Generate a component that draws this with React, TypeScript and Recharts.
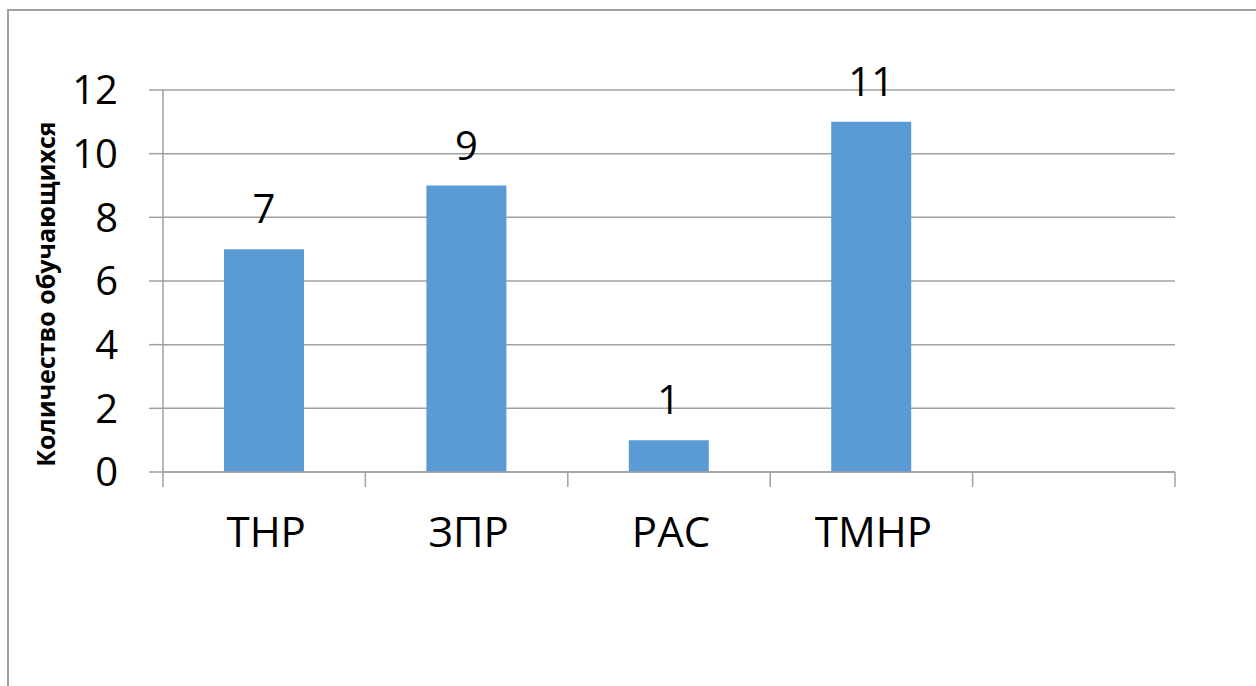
import React from 'react';
import { BarChart, Bar, XAxis, YAxis, CartesianGrid, LabelList } from 'recharts';

const categories = ['ТНР', 'ЗПР', 'РАС', 'ТМНР', ''];
const counts = [7, 9, 1, 11, null];
const yTicks = [0, 2, 4, 6, 8, 10, 12];

const data = categories.map((name, i) => ({ name, value: counts[i] }));

const W = 1256;
const H = 686;
const PLOT_LEFT = 163;
const PLOT_RIGHT = 1175;
const BAND = (PLOT_RIGHT - PLOT_LEFT) / categories.length;
const GRID = '#a0a0a0';
const FONT = '"Open Sans", sans-serif';

const CategoryTick = (props: any) => {
  const { x, y, payload, index } = props;
  const left = x - BAND / 2;
  const right = x + BAND / 2;
  return (
    <g>
      <line x1={left} y1={y} x2={left} y2={y + 15} stroke={GRID} strokeWidth={1.5} />
      {index === categories.length - 1 && (
        <line x1={right} y1={y} x2={right} y2={y + 15} stroke={GRID} strokeWidth={1.5} />
      )}
      <text x={x + 2} y={y + 75} textAnchor="middle" fill="#000" fontSize={42} fontFamily={FONT}>
        {payload.value}
      </text>
    </g>
  );
};

const YTitle = () => (
  <text
    x={45}
    y={294}
    transform="rotate(-90 45 294)"
    textAnchor="middle"
    dominantBaseline="central"
    fontSize={25}
    fontWeight="bold"
    fontFamily={FONT}
    fill="#000"
  >
    Количество обучающихся
  </text>
);

export default function App() {
  return (
    <div style={{ position: 'absolute', left: 0, top: 0, width: W, height: H, background: '#fff', overflow: 'hidden' }}>
      <div
        style={{
          position: 'absolute',
          left: 7,
          top: 9,
          width: W + 40,
          height: H + 40,
          border: `2px solid ${GRID}`,
          boxSizing: 'border-box',
        }}
      />
      <div style={{ position: 'absolute', left: 0, top: 0 }}>
        <BarChart
          width={W}
          height={H}
          data={data}
          margin={{ top: 90, right: W - PLOT_RIGHT, left: 0, bottom: 114 }}
        >
          <CartesianGrid vertical={false} stroke={GRID} strokeWidth={1.5} />
          <XAxis
            dataKey="name"
            height={100}
            interval={0}
            tickLine={false}
            tickSize={0}
            tickMargin={0}
            axisLine={{ stroke: GRID, strokeWidth: 1.5 }}
            tick={<CategoryTick />}
          />
          <YAxis
            width={PLOT_LEFT}
            domain={[0, 12]}
            ticks={yTicks}
            interval={0}
            tickSize={14}
            tickMargin={31}
            axisLine={{ stroke: GRID, strokeWidth: 1.5 }}
            tickLine={{ stroke: GRID, strokeWidth: 1.5 }}
            tick={{ fill: '#000', fontSize: 40, fontFamily: FONT }}
            label={<YTitle />}
          />
          <Bar dataKey="value" fill="#5b9bd5" barSize={80} isAnimationActive={false}>
            <LabelList
              dataKey="value"
              position="top"
              offset={26}
              fill="#000"
              fontSize={40}
              fontFamily={FONT}
            />
          </Bar>
        </BarChart>
      </div>
    </div>
  );
}
